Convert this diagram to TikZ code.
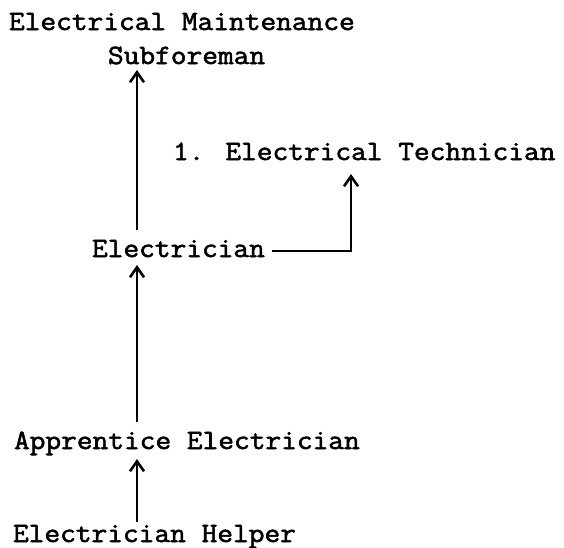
\documentclass[tikz,border=0pt]{standalone}
\usepackage{fontspec}
\newfontfamily\tw{Latin Modern Mono}[FakeBold=2, FakeStretch=1.09]
\usetikzlibrary{arrows.meta}
\tikzset{
  lbl/.style={anchor=base west, inner xsep=0pt, inner ysep=0pt, outer sep=0pt,
    font=\tw\fontsize{28}{34}\selectfont, text height=17pt, text depth=5pt},
  conn/.style={line width=1.7pt, -{Straight Barb[length=10pt,width=14pt,line width=2.6pt]}}
}
\begin{document}
\begin{tikzpicture}[x=1pt,y=-1pt]
\useasboundingbox[fill=white] (0,0) rectangle (564,547);
\node[lbl] (em) at (9,30) {Electrical Maintenance};
\node[lbl] (sub) at (108,64) {Subforeman};
\node[lbl] (tech) at (173,160) {1. Electrical Technician};
\node[lbl] (elec) at (92,257) {Electrician};
\node[lbl] (app) at (14,449) {Apprentice Electrician};
\node[lbl] (help) at (13,542) {Electrician Helper};
\coordinate (ax) at (137,0);
\coordinate (bx) at (351,0);
\draw[conn, shorten <=10pt, shorten >=1pt] (elec.north -| ax) -- (sub.south -| ax);
\draw[conn, shorten <=10pt, shorten >=3pt] (app.north -| ax) -- (elec.south -| ax);
\draw[conn, shorten <=3pt, shorten >=5pt] (help.north -| ax) -- (app.south -| ax);
\draw[conn, shorten >=9pt] ([xshift=7pt,yshift=6pt]elec.base east) -| (tech.south -| bx);
\end{tikzpicture}
\end{document}
